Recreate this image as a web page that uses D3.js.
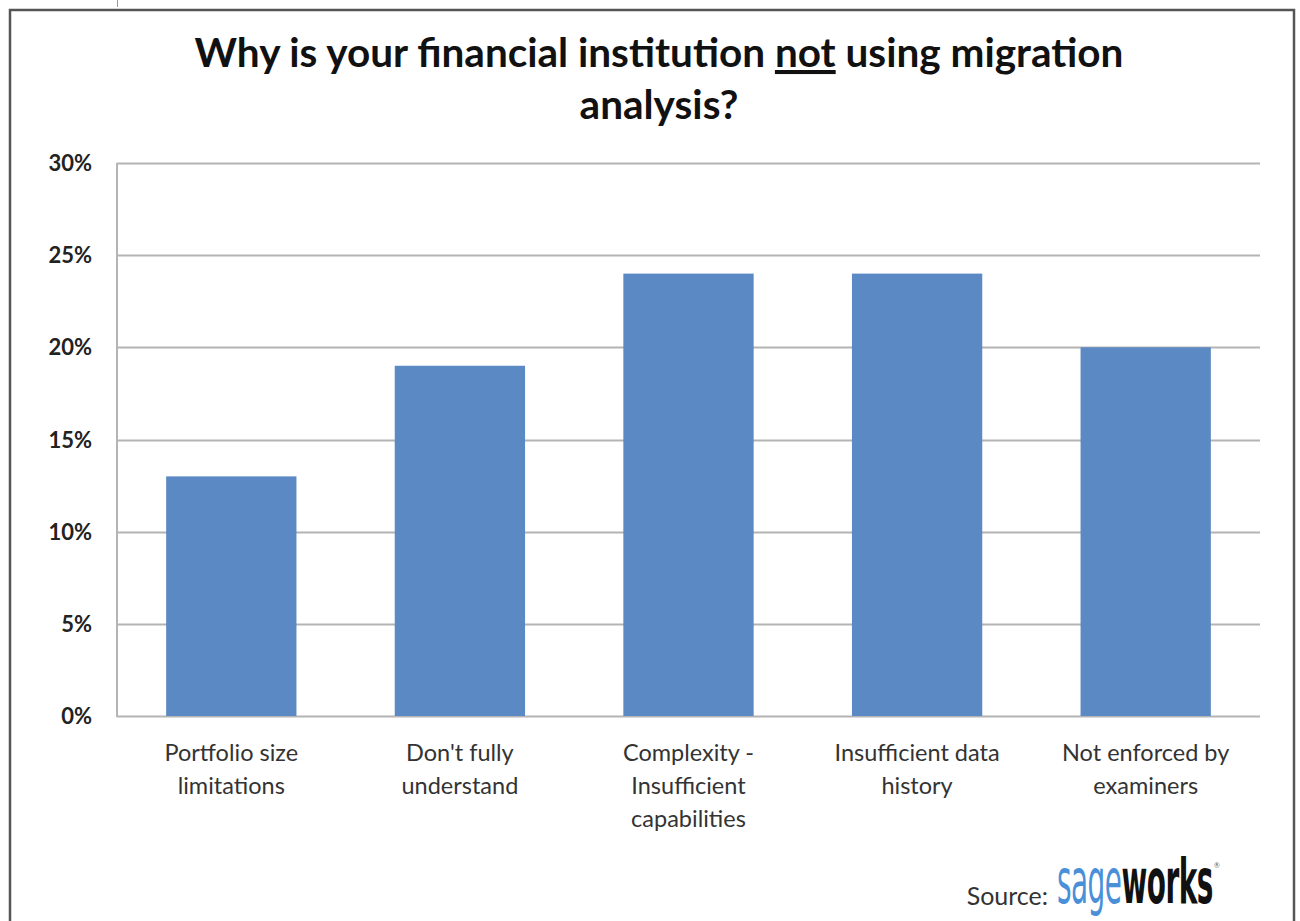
<!DOCTYPE html>
<html>
<head>
  <meta charset="utf-8">
  <title>Why is your financial institution not using migration analysis?</title>
  <style>
    body { margin: 0; background: #fff; }
    svg { display: block; }
  </style>
</head>
<body>
  <svg width="1300" height="921"></svg>
  <script src="https://d3js.org/d3.v7.min.js"></script>
  <script>
    // data
    var categories = [
      ["Portfolio size", "limitations"],
      ["Don't fully", "understand"],
      ["Complexity -", "Insufficient", "capabilities"],
      ["Insufficient data", "history"],
      ["Not enforced by", "examiners"]
    ];
    var values = [0.13, 0.19, 0.24, 0.24, 0.20];
    var yTicks = [0, 0.05, 0.10, 0.15, 0.20, 0.25, 0.30];

    var svg = d3.select("svg");
    var font = "Lato, 'Open Sans', sans-serif";

    // outer frame
    svg.append("rect")
      .attr("x", 10).attr("y", 10)
      .attr("width", 1284).attr("height", 930)
      .attr("fill", "none")
      .attr("stroke", "#555")
      .attr("stroke-width", 2.5);
    svg.append("line")
      .attr("x1", 117.5).attr("x2", 117.5)
      .attr("y1", 0).attr("y2", 7)
      .attr("stroke", "#999");

    var margin = { left: 117, right: 1260, top: 163, bottom: 716 };

    var x = d3.scaleBand()
      .domain(d3.range(values.length))
      .range([margin.left, margin.right])
      .paddingInner(0.43)
      .paddingOuter(0.215);

    var y = d3.scaleLinear()
      .domain([0, 0.30])
      .range([margin.bottom, margin.top]);

    // gridlines
    svg.append("g")
      .selectAll("line")
      .data(yTicks)
      .enter()
      .append("line")
      .attr("x1", margin.left)
      .attr("x2", margin.right)
      .attr("y1", function (d) { return Math.round(y(d)) + 0.5; })
      .attr("y2", function (d) { return Math.round(y(d)) + 0.5; })
      .attr("stroke", "#b4b4b4")
      .attr("stroke-width", 2);

    // y axis line
    svg.append("line")
      .attr("x1", margin.left).attr("x2", margin.left)
      .attr("y1", margin.top).attr("y2", margin.bottom + 1)
      .attr("stroke", "#b4b4b4")
      .attr("stroke-width", 2);

    // y tick labels
    svg.append("g")
      .selectAll("text")
      .data(yTicks)
      .enter()
      .append("text")
      .attr("x", 92)
      .attr("y", function (d) { return y(d) + 8; })
      .attr("text-anchor", "end")
      .attr("font-family", font)
      .attr("font-weight", "bold")
      .attr("font-size", 22)
      .attr("fill", "#222")
      .text(function (d) { return d3.format(".0%")(d); });

    // bars
    svg.append("g")
      .selectAll("rect")
      .data(values)
      .enter()
      .append("rect")
      .attr("x", function (d, i) { return x(i); })
      .attr("y", function (d) { return y(d); })
      .attr("width", x.bandwidth())
      .attr("height", function (d) { return y(0) - y(d); })
      .attr("fill", "#5a89c3");

    // category labels
    var labels = svg.append("g")
      .selectAll("text")
      .data(categories)
      .enter()
      .append("text")
      .attr("text-anchor", "middle")
      .attr("font-family", font)
      .attr("font-size", 23.5)
      .attr("fill", "#333");
    labels.selectAll("tspan")
      .data(function (d, i) { return d.map(function (t) { return { t: t, i: i }; }); })
      .enter()
      .append("tspan")
      .attr("x", function (d) { return x(d.i) + x.bandwidth() / 2; })
      .attr("y", function (d, j) { return 761 + j * 33; })
      .text(function (d) { return d.t; });

    // title
    var title = svg.append("text")
      .attr("text-anchor", "middle")
      .attr("font-family", font)
      .attr("font-weight", "bold")
      .attr("font-size", 40.5)
      .attr("fill", "#111");
    title.append("tspan").attr("x", 659).attr("y", 67).text("Why is your financial institution ");
    title.append("tspan").attr("text-decoration", "underline").text("not");
    title.append("tspan").text(" using migration");
    title.append("tspan").attr("x", 659).attr("y", 119).text("analysis?");

    // source
    svg.append("text")
      .attr("x", 1048).attr("y", 905)
      .attr("text-anchor", "end")
      .attr("font-family", font)
      .attr("font-size", 25)
      .attr("fill", "#333")
      .text("Source:");

    var logo = svg.append("text")
      .attr("transform", "translate(1057,903) scale(0.5,1)")
      .attr("font-family", "'DejaVu Sans Condensed', 'DejaVu Sans', sans-serif")
      .attr("font-size", 62)
      .attr("font-weight", "bold")
      .attr("letter-spacing", -1);
    logo.append("tspan").attr("fill", "#4a90d9").attr("font-weight", "normal").text("sage");
    logo.append("tspan").attr("fill", "#111").text("works");
    svg.append("text")
      .attr("x", 1214).attr("y", 868)
      .attr("font-family", font)
      .attr("font-size", 7)
      .attr("fill", "#666")
      .text("®");
  </script>
</body>
</html>
